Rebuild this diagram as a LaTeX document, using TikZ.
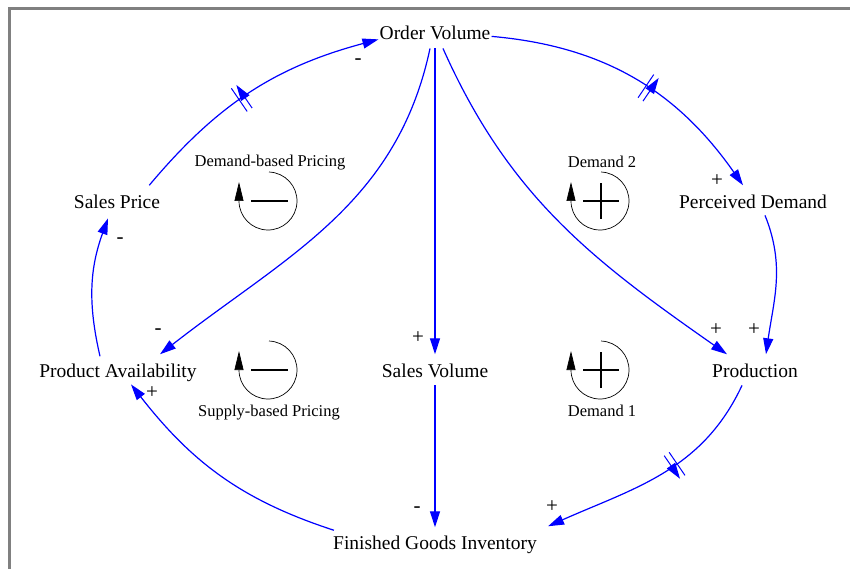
\documentclass[tikz,border=0pt]{standalone}
\usepackage{fontspec}
\setmainfont{Liberation Serif}
\usetikzlibrary{arrows.meta,decorations.markings}
\tikzset{
  var/.style={inner sep=1pt, anchor=base, font=\fontsize{19.5}{22}\selectfont},
  sgn/.style={inner sep=0pt, font=\fontsize{21}{24}\selectfont},
  looplabel/.style={inner sep=0pt, anchor=base, font=\fontsize{16.5}{19}\selectfont},
  link/.style={blue, line width=1.2pt, -{Triangle[length=16pt,width=10pt]}},
  delaymark/.style={postaction={decorate,decoration={markings,
    mark=at position #1 with {\draw[blue,line width=1pt] (-3,-14)--(-3,14) (3,-14)--(3,14);}}}},
  loopsym/.pic={
    \draw[line width=0.7pt, -{Triangle[length=19pt,width=9pt]}] (88:29) arc[start angle=88,end angle=-180,radius=29] -- ++(0,19);
  },
  negsym/.pic={\draw[line width=2pt] (-17,0)--(20,0);},
  possym/.pic={\draw[line width=2pt] (-17,0)--(19,0) (1,-18)--(1,18);}
}
\begin{document}
\begin{tikzpicture}[x=1pt, y=1pt]
\useasboundingbox (0,0) rectangle (850,-569);
\draw[gray, line width=3pt] (9.5,-569)--(9.5,-8.5)--(850,-8.5);
% variables
\node[var] (ov) at (435,-40) {Order Volume};
\node[var] (sp) at (117,-208) {Sales Price};
\node[var] (pd) at (753,-208) {Perceived Demand};
\node[var] (pa) at (118,-377) {Product Availability};
\node[var] (sv) at (435,-377) {Sales Volume};
\node[var] (pr) at (755,-377) {Production};
\node[var] (fgi) at (435,-549) {Finished Goods Inventory};
% links
\draw[link, delaymark=0.55] ([yshift=-3]ov.east) to[out=-5,in=125] ([xshift=-10,yshift=8]pd.north);
\draw[link] ([xshift=12,yshift=-6]pd.south) to[out=-68,in=82] ([xshift=11,yshift=8]pr.north);
\draw[link] ([xshift=8,yshift=-7]ov.south) to[out=-66,in=145] ([xshift=-28,yshift=8]pr.north);
\draw[link] ([yshift=-7]ov.south) -- ([yshift=8]sv.north);
\draw[link] ([yshift=-7]sv.south) -- ([yshift=7]fgi.north);
\draw[link, delaymark=0.43] ([xshift=-13,yshift=-7]pr.south) to[out=-115,in=24] ([xshift=10,yshift=8]fgi.north east);
\draw[link] ([xshift=2,yshift=4]fgi.north west) to[out=162,in=-52] ([xshift=13,yshift=-2]pa.south);
\draw[link] ([xshift=-18,yshift=6]pa.north) to[out=103,in=-110] ([xshift=-9,yshift=-9]sp.south);
\draw[link, delaymark=0.46] ([xshift=-12,yshift=8]sp.north east) to[out=50,in=195] ([yshift=-6]ov.west);
\draw[link] ([xshift=-5,yshift=-7]ov.south) to[out=-102,in=38] ([xshift=42,yshift=8]pa.north);
% polarities
\node[sgn] (s1) at (358,-62) {-};
\node[sgn] (s2) at (717,-181) {+};
\node[sgn] (s3) at (120,-241) {-};
\node[sgn] (s4) at (158,-332) {-};
\node[sgn] (s5) at (418,-338) {+};
\node[sgn] (s6) at (716,-330) {+};
\node[sgn] (s7) at (754,-330) {+};
\node[sgn] (s8) at (152,-393) {+};
\node[sgn] (s9) at (417,-510) {-};
\node[sgn] (s10) at (552,-507) {+};
% loops
\pic at (268,-201) {loopsym};
\pic at (268,-201) {negsym};
\node[looplabel] (dbp) at (270,-167) {Demand-based Pricing};
\pic at (268,-370) {loopsym};
\pic at (268,-370) {negsym};
\node[looplabel] (sbp) at (269,-416) {Supply-based Pricing};
\pic at (600,-201) {loopsym};
\pic at (600,-201) {possym};
\node[looplabel] (d2) at (602,-168) {Demand 2};
\pic at (600,-370) {loopsym};
\pic at (600,-370) {possym};
\node[looplabel] (d1) at (602,-416) {Demand 1};
\end{tikzpicture}
\end{document}
